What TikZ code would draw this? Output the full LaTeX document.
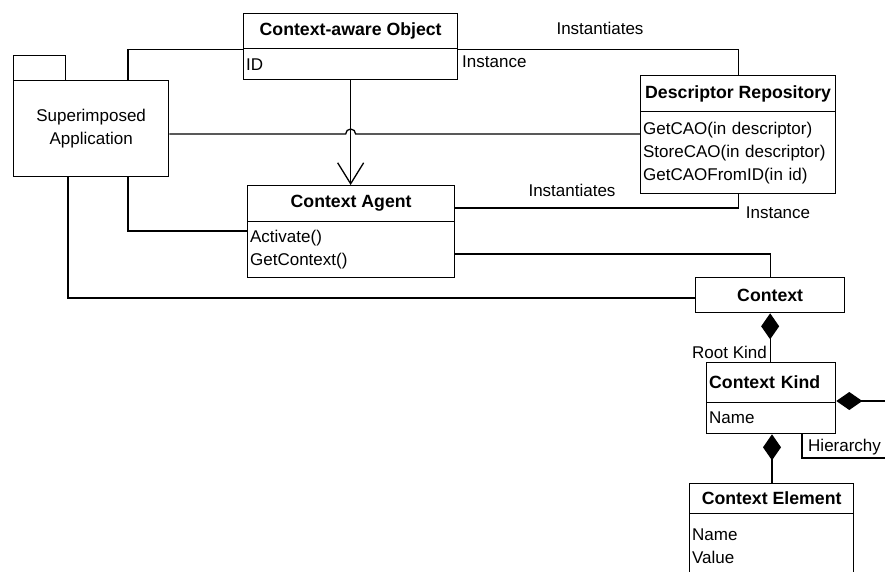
\documentclass[tikz,border=0pt]{standalone}
\usepackage{fontspec}
\setmainfont{Liberation Sans}
\usetikzlibrary{arrows.meta}
\begin{document}
\begin{tikzpicture}[x=1pt,y=-1pt,
  every node/.style={font=\fontsize{17}{23}\selectfont, inner sep=0pt},
  wire/.style={line width=1.3pt},
  cbox/.style={draw, line width=1.3pt, inner sep=0pt, anchor=north west},
  ctitle/.style={cbox, font=\fontsize{17.7}{23}\selectfont\bfseries},
  cattr/.style={cbox, align=left, inner xsep=2.5pt},
  lbl/.style={inner sep=0pt},
  comp/.style={{Diamond[length=26pt,width=18pt]}-},
  nav/.style={-{Straight Barb[length=21pt,width=26pt]}}
]
\useasboundingbox (0,0) rectangle (885,571);
\clip (0,0) rectangle (885,571);

% Superimposed Application (package symbol)
\node[cbox, minimum width=52pt, minimum height=25pt] (saTab) at (13,55) {};
\node[cbox, minimum width=155pt, minimum height=96pt, align=center] (saM) at (13,80) {Superimposed\\Application};

% Context-aware Object
\node[ctitle, minimum width=214pt, minimum height=35pt] (caoT) at (243,13) {Context-aware Object};
\node[cattr, minimum height=31pt, text width=209pt] (caoA) at (243,48) {ID};

% Descriptor Repository
\node[ctitle, minimum width=195pt, minimum height=36pt] (drT) at (640,75) {Descriptor Repository};
\node[cattr, minimum height=82pt, text width=190pt] (drA) at (640,111)
  {GetCAO(in descriptor)\\StoreCAO(in descriptor)\\GetCAOFromID(in id)};

% Context Agent
\node[ctitle, minimum width=207pt, minimum height=36pt] (caT) at (247,185) {Context Agent};
\node[cattr, minimum height=56pt, text width=202pt] (caA) at (247,221) {Activate()\\GetContext()};

% Context
\node[ctitle, minimum width=149pt, minimum height=35pt] (ctx) at (695,277) {Context};

% Context Kind
\node[ctitle, minimum height=40pt, text width=124pt, align=left, inner xsep=2.5pt] (ckT) at (706,362) {Context Kind};
\node[cattr, minimum height=31pt, text width=124pt] (ckA) at (706,402) {Name};

% Context Element
\node[ctitle, minimum width=164pt, minimum height=30pt] (ceT) at (689,483) {Context Element};
\node[cattr, minimum height=66pt, text width=159pt] (ceA) at (689,513) {Name\\Value};

% free ends running off to the right
\coordinate (hierTip) at (890,401);
\coordinate (hierEnd) at (890,458);
\coordinate (hop) at (caoA.south |- 0,134);

% connectors from the application
\draw[wire] (saM.north -| 128,0) |- (caoT.south west);
\draw[wire] (saM.east |- hop) -- ([xshift=-5pt]hop) arc[start angle=180,end angle=0,radius=5pt] -- (drA.west |- hop);
\draw[wire] (saM.south -| 128,0) |- (caA.west |- 0,231);
\draw[wire] (saM.south -| 68,0) |- (ctx.west |- 0,298);

% navigation from object to agent
\draw[wire, nav] (caoA.south) -- (caT.north -| caoA.south);

% instantiation links with the repository
\draw[wire] (caoT.south east) -| (drT.north);
\draw[wire] (caT.east |- 0,208) -| (drA.south);
\draw[wire] (caA.east |- 0,254) -| (ctx.north);

% compositions
\draw[wire, comp] (ctx.south) -- (ckT.north -| ctx.south);
\draw[wire, comp] (ckT.east |- hierTip) -- (hierTip);
\draw[wire] (ckA.south -| 802,0) |- (hierEnd);
\draw[wire, comp] (ckA.south -| 772,0) -- (ceT.north -| 772,0);

% role labels
\node[lbl] (inst1) at (600,28) {Instantiates};
\node[lbl, anchor=west] (ince1) at (462,62) {Instance};
\node[lbl] (inst2) at (572,190) {Instantiates};
\node[lbl] (ince2) at (778,213) {Instance};
\node[lbl, anchor=east] (root) at (767,352) {Root Kind};
\node[lbl, anchor=west] (hier) at (808,447) {Hierarchy};
\end{tikzpicture}
\end{document}
